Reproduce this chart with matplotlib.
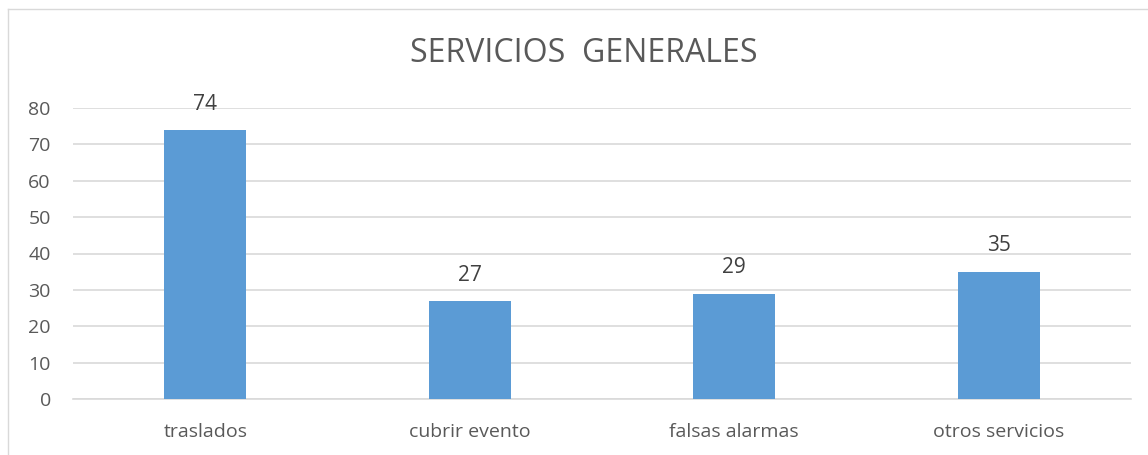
import matplotlib.pyplot as plt
from matplotlib.lines import Line2D

# data
categories = ['traslados', 'cubrir evento', 'falsas alarmas', 'otros servicios']
values = [74, 27, 29, 35]
yticks = [0, 10, 20, 30, 40, 50, 60, 70, 80]

plt.rcParams['font.family'] = ['Open Sans', 'DejaVu Sans']
text_col = '#595959'
grid_col = '#D9D9D9'

fig = plt.figure(figsize=(11.48, 4.55), dpi=100)
ax = fig.add_axes([73/1148, 1 - 399/455, (1131 - 73)/1148, (399 - 108)/455])

x = range(len(categories))
bars = ax.bar(x, values, width=0.31, color='#5B9BD5', zorder=3)
for xi, v in zip(x, values):
	ax.annotate(str(v), (xi, v), xytext=(0, 11), textcoords='offset points',
				ha='center', va='bottom', fontsize=15, color='#404040')

ax.set_xlim(-0.5, len(categories) - 0.5)
ax.set_ylim(0, 80)
ax.set_yticks(yticks)
ax.set_xticks(list(x))
ax.set_xticklabels(categories)
ax.yaxis.grid(True, color=grid_col, linewidth=1.2, zorder=0)
ax.tick_params(axis='both', length=0, labelsize=14, colors=text_col)
ax.tick_params(axis='x', pad=17)
ax.tick_params(axis='y', pad=16)
for s in ['top', 'right', 'left']:
	ax.spines[s].set_visible(False)
ax.spines['bottom'].set_color(grid_col)
ax.spines['bottom'].set_linewidth(1.2)

fig.text(584/1148, 1 - 54/455, 'SERVICIOS  GENERALES', ha='center', va='center',
		 fontsize=23, color=text_col)

# chart border (left and top edges visible in the crop)
bx, by = 8/1148, 1 - 9/455
fig.add_artist(Line2D([bx, bx], [0, by], transform=fig.transFigure, color=grid_col, lw=1))
fig.add_artist(Line2D([bx, 1], [by, by], transform=fig.transFigure, color=grid_col, lw=1))

fig.savefig('out.png', dpi=100)
